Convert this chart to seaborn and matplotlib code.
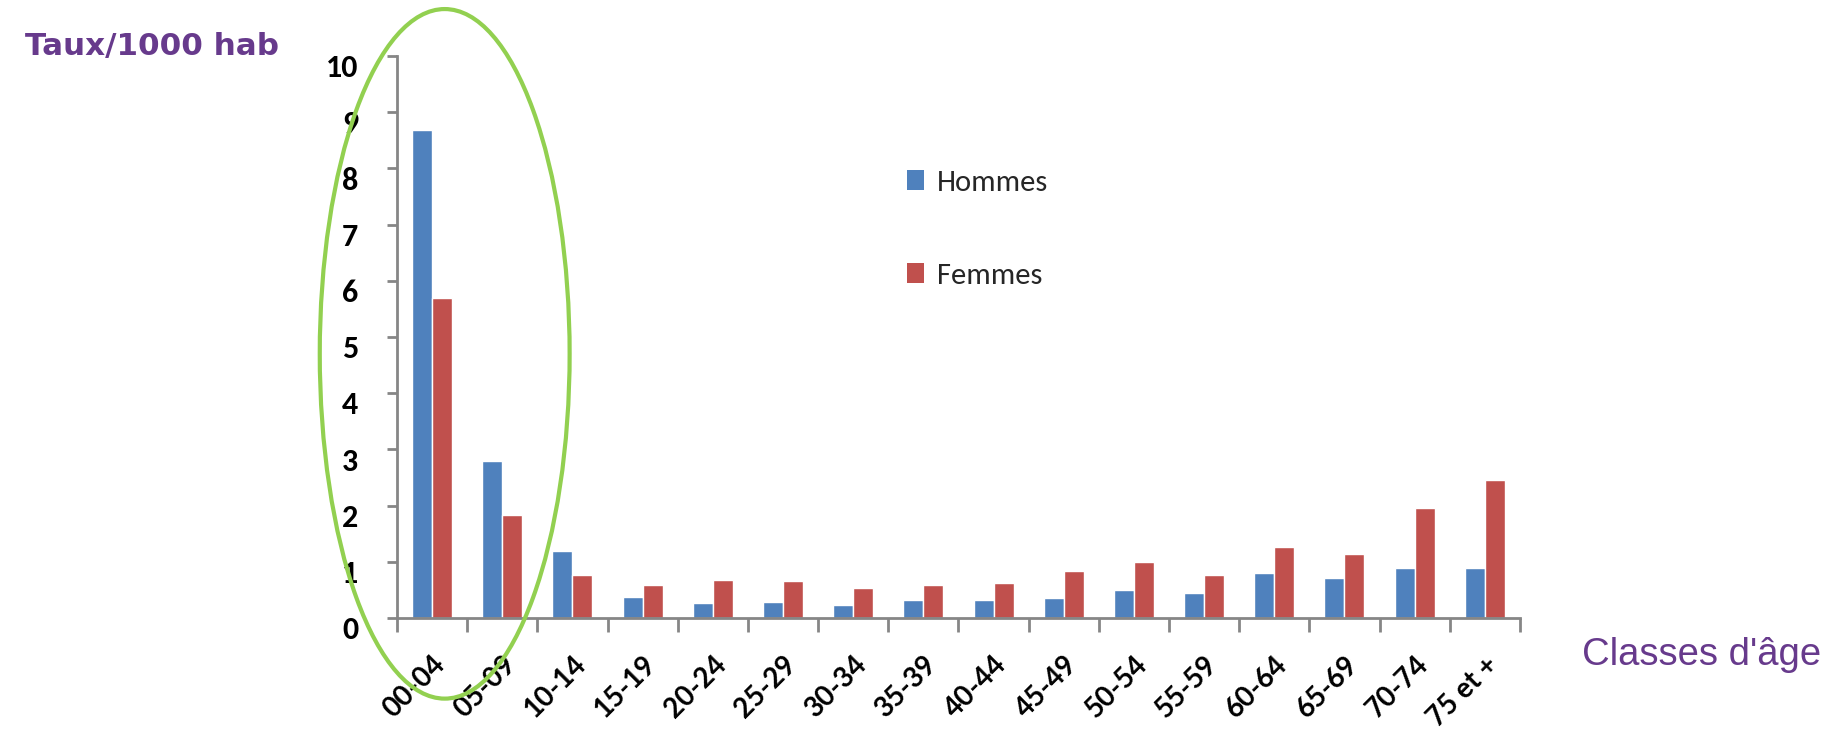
import matplotlib
matplotlib.use("Agg")
import matplotlib.pyplot as plt
import matplotlib.transforms as mtransforms
from matplotlib.patches import Ellipse, Patch
import seaborn as sns
import pandas as pd

# ==========================================
# Données
# ==========================================
classes = ['00-04', '05-09', '10-14', '15-19', '20-24', '25-29', '30-34', '35-39',
           '40-44', '45-49', '50-54', '55-59', '60-64', '65-69', '70-74', '75 et +']
hommes = [8.68, 2.80, 1.19, 0.37, 0.26, 0.29, 0.23, 0.32,
          0.32, 0.35, 0.50, 0.44, 0.80, 0.71, 0.89, 0.89]
femmes = [5.70, 1.83, 0.77, 0.59, 0.68, 0.65, 0.53, 0.59,
          0.62, 0.83, 0.99, 0.77, 1.26, 1.14, 1.96, 2.45]
sexes = ['Hommes', 'Femmes']
couleurs = ['#4F81BD', '#C0504D']
y_ticks = list(range(0, 11))

df = pd.DataFrame({
    'classe': classes * 2,
    'sexe': ['Hommes'] * len(classes) + ['Femmes'] * len(classes),
    'taux': hommes + femmes,
})

sns.set_theme(style="white")
police = ['Carlito', 'Lato', 'DejaVu Sans']
plt.rcParams['font.family'] = police

violet = '#673A8C'
gris = '#868686'

fig = plt.figure(figsize=(18.26, 7.29), dpi=100)
ax = fig.add_axes([0.2174, 0.1523, 0.615, 0.7709])

sns.barplot(data=df, x='classe', y='taux', hue='sexe', order=classes, hue_order=sexes,
            palette=couleurs, width=0.57, gap=0, saturation=1, legend=False, ax=ax)

ax.set_xlim(-0.5, len(classes) - 0.5)
ax.set_ylim(0, 10)
ax.set_xlabel('')
ax.set_ylabel('')

# axes façon Excel
for s in ['top', 'right']:
    ax.spines[s].set_visible(False)
for s in ['left', 'bottom']:
    ax.spines[s].set_color(gris)
    ax.spines[s].set_linewidth(2)

ax.set_yticks(y_ticks)
ax.set_yticklabels([str(v) for v in y_ticks], fontsize=23, fontweight='bold', color='black')
ax.tick_params(axis='y', direction='out', length=7, width=2, color=gris, pad=21, left=True)
dy = mtransforms.ScaledTranslation(0, -7 / 72, fig.dpi_scale_trans)
for lab in ax.get_yticklabels():
    lab.set_transform(lab.get_transform() + dy)

ax.set_xticks(range(len(classes)))
ax.set_xticklabels(classes, rotation=45, ha='right', va='top', rotation_mode='anchor',
                   fontsize=20, fontweight='bold', color='black', family=['Lato', 'DejaVu Sans'])
ax.tick_params(axis='x', which='major', length=0, pad=24, bottom=True)
ax.set_xticks([i - 0.5 for i in range(len(classes) + 1)], minor=True)
ax.tick_params(axis='x', which='minor', direction='out', length=10, width=2, color=gris, bottom=True)

# légende
handles = [Patch(facecolor=c, edgecolor='none') for c in couleurs]
ax.legend(handles, sexes, loc='upper left', bbox_to_anchor=(0.4408, 0.825),
          frameon=False, fontsize=22, handlelength=0.56, handleheight=0.62,
          handletextpad=0.42, labelspacing=2.2, borderpad=0)

# ellipse verte autour des jeunes enfants
ell = Ellipse((0.18, 4.7), width=3.56, height=12.27, transform=ax.transData,
              fill=False, edgecolor='#92D050', linewidth=3, clip_on=False, zorder=5)
ax.add_patch(ell)

# titres des axes
fig.text(25 / 1826, 1 - 55 / 729, 'Taux/1000 hab', fontsize=22.3, color=violet,
         family=['DejaVu Sans'], fontweight='bold', va='baseline', ha='left')
fig.text(1821 / 1826, 1 - 665 / 729, "Classes d'âge", fontsize=27.5, color=violet,
         family=['Liberation Sans', 'DejaVu Sans'], va='baseline', ha='right')

fig.savefig('out.png', dpi=100, facecolor='white')
